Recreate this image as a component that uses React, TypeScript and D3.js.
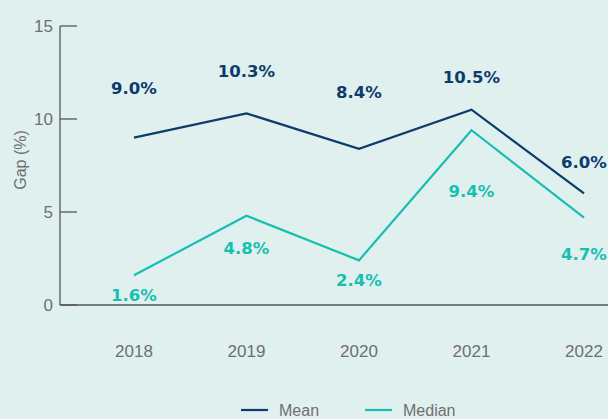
import React from 'react';
import * as d3 from 'd3';

// chart data
const years = ['2018', '2019', '2020', '2021', '2022'];
const meanGap = [9.0, 10.3, 8.4, 10.5, 6.0];
const medianGap = [1.6, 4.8, 2.4, 9.4, 4.7];
const yTicks = [0, 5, 10, 15];

// label nudges (px) so the value labels sit where the original put them
const meanLabelDy = [-49, -42, -57, -32, -31];
const medianLabelDy = [20, 33, 20, 61, 37];

const W = 608;
const H = 419;
const MEAN_COLOR = '#0d3b6c';
const MEDIAN_COLOR = '#17bfb1';
const AXIS_COLOR = '#555';
const TEXT_GRAY = '#6f6f6f';
const thinFont = '"Liberation Sans Narrow", "Liberation Sans", sans-serif';
const boldFont = '"DejaVu Sans", sans-serif';

export default function App() {
  const x = d3.scalePoint<string>().domain(years).range([134, 584]);
  const y = d3.scaleLinear().domain([0, 15]).range([305, 26]);

  const line = d3.line<number>()
    .x((d, i) => x(years[i]) as number)
    .y(d => y(d));

  const series = [
    { name: 'Mean', values: meanGap, color: MEAN_COLOR, dy: meanLabelDy },
    { name: 'Median', values: medianGap, color: MEDIAN_COLOR, dy: medianLabelDy },
  ];

  return (
    <div style={{ position: 'fixed', left: 0, top: 0, width: W, height: H, background: '#e0f0ef' }}>
      <svg width={W} height={H} style={{ display: 'block' }}>
        {/* y axis */}
        <line x1={60} x2={60} y1={y(15)} y2={y(0)} stroke={AXIS_COLOR} strokeWidth={1.3} />
        <line x1={60} x2={W} y1={y(0)} y2={y(0)} stroke={AXIS_COLOR} strokeWidth={1.3} />
        {yTicks.map(t => (
          <g key={t}>
            <line x1={60} x2={77} y1={y(t)} y2={y(t)} stroke={AXIS_COLOR} strokeWidth={1.3} />
            <text x={53} y={y(t)} dy="0.35em" textAnchor="end" fontFamily={thinFont}
              fontSize={17} fill={TEXT_GRAY}>{t}</text>
          </g>
        ))}
        <text transform={`translate(20,160) rotate(-90)`} textAnchor="middle" dy="0.35em"
          fontFamily={thinFont} fontSize={16} fill={TEXT_GRAY}>Gap (%)</text>

        {/* x labels */}
        {years.map(yr => (
          <text key={yr} x={x(yr)} y={351} dy="0.35em" textAnchor="middle" fontFamily={thinFont}
            fontSize={17} fill={TEXT_GRAY}>{yr}</text>
        ))}

        {/* lines */}
        {series.map(s => (
          <path key={s.name} d={line(s.values) || ''} fill="none" stroke={s.color} strokeWidth={2.2} />
        ))}

        {/* value labels */}
        {series.map(s => s.values.map((v, i) => (
          <text key={s.name + i} x={x(years[i])} y={y(v) + s.dy[i]} dy="0.35em" textAnchor="middle"
            fontFamily={boldFont} fontWeight="bold" fontSize={16.5} fill={s.color}>
            {v.toFixed(1)}%
          </text>
        )))}

        {/* legend */}
        {series.map((s, i) => {
          const lx = 241 + i * 124;
          return (
            <g key={s.name}>
              <line x1={lx} x2={lx + 27} y1={410} y2={410} stroke={s.color} strokeWidth={2.2} />
              <text x={lx + 38} y={410} dy="0.35em" fontFamily={thinFont} fontSize={16} fill={TEXT_GRAY}>
                {s.name}
              </text>
            </g>
          );
        })}
      </svg>
    </div>
  );
}
